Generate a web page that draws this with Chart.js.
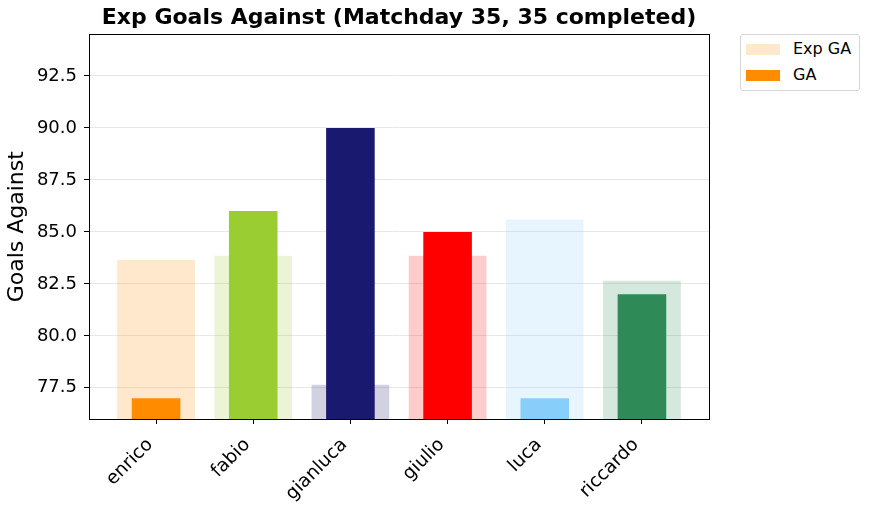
<!DOCTYPE html>
<html>
<head>
    <title>Exp Goals Against</title>
    <script src="https://cdn.jsdelivr.net/npm/chart.js@4"></script>
    <style>
        body {
            margin: 0;
            background: #fff;
            font-family: "DejaVu Sans", sans-serif;
        }
        .wrap {
            position: relative;
            width: 870px;
            height: 510px;
        }
        .legend {
            position: absolute;
            left: 740px;
            top: 34px;
            width: 118px;
            height: 55px;
            border: 1px solid #d6d6d6;
            border-radius: 3px;
            background: #fff;
            font-size: 16px;
        }
        .legend div {
            position: absolute;
            left: 5px;
            height: 20px;
            line-height: 20px;
        }
        .legend span {
            display: inline-block;
            width: 34px;
            height: 11px;
            margin-right: 13px;
            vertical-align: -1px;
        }
    </style>
</head>
<body>
    <div class="wrap">
        <canvas id="chart" width="870" height="510"></canvas>
        <div class="legend">
            <div style="top: 4px;"><span style="background: rgba(255,140,0,0.2);"></span>Exp GA</div>
            <div style="top: 30px;"><span style="background: #ff8c00;"></span>GA</div>
        </div>
    </div>
    <script>
        // players and season numbers
        const players = ["enrico", "fabio", "gianluca", "giulio", "luca", "riccardo"];
        const expGA = [83.65, 83.85, 77.65, 83.85, 85.6, 82.65];
        const ga = [77, 86, 90, 85, 77, 82];
        const yTicks = [77.5, 80, 82.5, 85, 87.5, 90, 92.5];
        const colors = ["#ff8c00", "#9acd32", "#191970", "#ff0000", "#87cefa", "#2e8b57"];

        function fade(hex, a) {
            const r = parseInt(hex.slice(1, 3), 16);
            const g = parseInt(hex.slice(3, 5), 16);
            const b = parseInt(hex.slice(5, 7), 16);
            return `rgba(${r},${g},${b},${a})`;
        }

        // black box round the plot area, like matplotlib spines
        const frame = {
            id: "frame",
            afterDraw(chart) {
                const a = chart.chartArea;
                const ctx = chart.ctx;
                ctx.save();
                ctx.strokeStyle = "#000";
                ctx.lineWidth = 1;
                ctx.strokeRect(Math.round(a.left) + 0.5, Math.round(a.top) + 0.5,
                    Math.round(a.right - a.left), Math.round(a.bottom - a.top));
                ctx.restore();
            }
        };

        const font = "'DejaVu Sans', sans-serif";

        new Chart(document.getElementById("chart"), {
            type: "bar",
            data: {
                datasets: [
                    {
                        label: "GA",
                        data: ga.map((v, i) => ({ x: i, y: v })),
                        backgroundColor: colors,
                        barPercentage: 0.5,
                        categoryPercentage: 1,
                        grouped: false,
                        order: 0
                    },
                    {
                        label: "Exp GA",
                        data: expGA.map((v, i) => ({ x: i, y: v })),
                        backgroundColor: colors.map(c => fade(c, 0.2)),
                        barPercentage: 0.8,
                        categoryPercentage: 1,
                        grouped: false,
                        order: 1
                    }
                ]
            },
            options: {
                responsive: false,
                animation: false,
                layout: { padding: { left: 0, right: 161, top: 0, bottom: 0 } },
                plugins: {
                    legend: { display: false },
                    tooltip: { enabled: false },
                    title: {
                        display: true,
                        fullSize: false,
                        text: "Exp Goals Against (Matchday 35, 35 completed)",
                        color: "#000",
                        font: { family: font, size: 22, weight: "bold", lineHeight: 1.2 },
                        padding: { top: 5, bottom: 3 }
                    }
                },
                scales: {
                    x: {
                        type: "linear",
                        min: -0.69,
                        max: 5.69,
                        offset: false,
                        afterBuildTicks: s => { s.ticks = players.map((p, i) => ({ value: i })); },
                        afterFit: s => { s.height = 91; },
                        ticks: {
                            callback: v => players[v],
                            color: "#000",
                            font: { family: font, size: 18.5 },
                            minRotation: 45,
                            maxRotation: 45,
                            padding: 10,
                            labelOffset: -6
                        },
                        grid: { offset: false, drawOnChartArea: false, tickColor: "#000", tickLength: 5 },
                        border: { color: "#000" }
                    },
                    y: {
                        min: 76,
                        max: 94.5,
                        afterBuildTicks: s => { s.ticks = yTicks.map(v => ({ value: v })); },
                        afterFit: s => { s.width = 89; },
                        ticks: {
                            callback: v => v.toFixed(1),
                            color: "#000",
                            font: { family: font, size: 18 },
                            padding: 7
                        },
                        grid: { color: "#e8e8e8", tickColor: "#000", tickLength: 5 },
                        border: { color: "#000" },
                        title: {
                            display: true,
                            text: "Goals Against",
                            color: "#000",
                            font: { family: font, size: 22, lineHeight: 1.2 },
                            padding: { top: 4, bottom: 0 }
                        }
                    }
                }
            },
            plugins: [frame]
        });
    </script>
</body>
</html>
